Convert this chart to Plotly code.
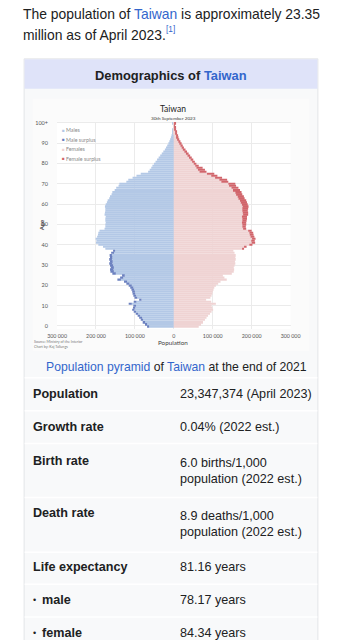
import plotly.graph_objects as go

# ---------------- data ----------------
ages = list(range(101))
# population by single year of age (thousands), read from the pyramid
males_k = [68, 74, 80, 85, 89, 93, 98, 103, 107, 105,
           104, 116, 103, 89, 101, 104, 106, 107, 109, 112,
           116, 122, 128, 145, 138, 133, 158, 163, 164, 162,
           164, 166, 164, 166, 164, 165, 161, 156, 176, 182,
           194, 200, 199, 201, 197, 195, 194, 191, 178, 176,
           176, 175, 176, 176, 175, 178, 177, 176, 176, 177,
           175, 172, 170, 166, 164, 160, 158, 152, 148, 142,
           140, 122, 117, 106, 96, 85, 66, 62, 58, 55,
           51, 47, 43, 39, 35, 31, 27, 23, 20, 17,
           14, 11.5, 9.5, 7.5, 6, 4.6, 3.5, 2.6, 1.9, 1.4, 2.4]
females_k = [64, 70, 75, 80, 84, 88, 93, 97, 101, 99,
             97, 108, 96, 83, 94, 97, 99, 100, 102, 104,
             108, 114, 120, 136, 130, 126, 149, 154, 155, 154,
             156, 158, 157, 159, 158, 159, 156, 153, 180, 187,
             202, 209, 208, 210, 207, 205, 204, 200, 186, 185,
             186, 186, 187, 188, 188, 191, 191, 190, 191, 192,
             190, 188, 186, 182, 180, 176, 174, 170, 166, 160,
             158, 140, 137, 124, 112, 104, 84, 80, 74, 64,
             58, 54, 50, 46, 42, 38, 34, 30, 26, 23,
             20, 17, 14, 12, 10, 8, 6.2, 4.8, 3.6, 2.7, 4.5]

x_tickvals = [-300000, -200000, -100000, 0, 100000, 200000, 300000]
x_ticktext = ["300 000", "200 000", "100 000", "0", "100 000", "200 000", "300 000"]
y_tickvals = [0, 10, 20, 30, 40, 50, 60, 70, 80, 90, 100]
y_ticktext = ["0", "10", "20", "30", "40", "50", "60", "70", "80", "90", "100+"]

legend_names = ["Males", "Male surplus", "Females", "Female surplus"]
colors = ["#b3c8e6", "#6b80bf", "#efd3d3", "#d1656b"]

row_labels = ["Population", "Growth rate", "Birth rate", "Death rate",
              "Life expectancy", "male", "female"]
row_values = ["23,347,374 (April 2023)", "0.04% (2022 est.)",
              "6.0 births/1,000<br>population (2022 est.)",
              "8.9 deaths/1,000<br>population (2022 est.)",
              "81.16 years", "78.17 years", "84.34 years"]

# ---------------- helpers ----------------
W, H = 342, 640
PAGE_FONT = "Liberation Sans, Arial, sans-serif"
CHART_FONT = "Lato, sans-serif"
TXT = "#202122"
LINK = "#3366cc"


def px(x):
    return x / W


def py(y):
    return 1 - y / H


males = [v * 1000 for v in males_k]
females = [v * 1000 for v in females_k]
common = [min(a, b) for a, b in zip(males, females)]
m_surplus = [max(a - b, 0) for a, b in zip(males, females)]
f_surplus = [max(b - a, 0) for a, b in zip(males, females)]

fig = go.Figure()
series = [[-c for c in common], [-s for s in m_surplus], common, f_surplus]
for name, vals, col in zip(legend_names, series, colors):
    fig.add_trace(go.Bar(y=ages, x=vals, orientation="h", name=name,
                         marker=dict(color=col, line=dict(width=0)),
                         hoverinfo="skip"))

annotations = []


def txt(x, y, text, size, color=TXT, family=PAGE_FONT, xanchor="left",
        yanchor="middle", angle=0, align="left"):
    annotations.append(dict(x=px(x), y=py(y), xref="paper", yref="paper",
                            text=text, showarrow=False, xanchor=xanchor,
                            yanchor=yanchor, textangle=angle, align=align,
                            font=dict(size=size, color=color, family=family),
                            borderpad=0, borderwidth=0))


# page text
txt(14, 12, f"The population of <span style='color:{LINK}'>Taiwan</span> is approximately 23.35", 13.9)
txt(14, 33, "million as of April 2023.", 13.9)
txt(165.5, 27.5, "[1]", 8.3, color=LINK)

# infobox header
txt(171, 74, f"<b>Demographics of <span style='color:{LINK}'>Taiwan</span></b>", 12.9,
    xanchor="center")

# chart texts
txt(173.5, 107, "Taiwan", 8.5, color="#222", family=CHART_FONT, xanchor="center")
txt(174, 116, "30th September 2023", 4.6, color="#333", family=CHART_FONT, xanchor="center")
txt(33, 224, "<b>Age</b>", 6, color="#444", family=CHART_FONT, xanchor="center", angle=-90)
txt(173, 342, "Population", 6.3, color="#444", family=CHART_FONT, xanchor="center")
txt(26, 340.5, "Source: Ministry of the Interior", 3.6, color="#777", family=CHART_FONT)
txt(26, 345.5, "Chart by: Kaj Tallungs", 3.6, color="#777", family=CHART_FONT)
for i, (name, col) in enumerate(zip(legend_names, colors)):
    yy = 128.7 + i * 9.55
    txt(55.5, yy, "■", 4.5, color=col, family=PAGE_FONT)
    txt(60, yy, name, 5.3, color="#8a8a8a", family=CHART_FONT)

# caption
txt(176.5, 366, f"<span style='color:{LINK}'>Population pyramid</span> of "
    f"<span style='color:{LINK}'>Taiwan</span> at the end of 2021", 12.2, xanchor="center")

# table rows
label_y = [393.5, 426.5, 460, 513, 567, 600, 633]
value_y = [393.5, 426.5, 470.5, 524, 567, 600, 633]
for lab, val, ly, vy in zip(row_labels, row_values, label_y, value_y):
    if lab in ("male", "female"):
        txt(24.5, ly, "•", 9, color=TXT)
        txt(33.5, ly, f"<b>{lab}</b>", 12.6)
    else:
        txt(24.3, ly, f"<b>{lab}</b>", 12.6)
    annotations.append(dict(x=px(180.5), y=py(vy), xref="paper", yref="paper",
                            text=val, showarrow=False, xanchor="left", yanchor="middle",
                            align="left", font=dict(size=12.6, color=TXT, family=PAGE_FONT),
                            borderpad=0, borderwidth=0))

shapes = [
    # infobox body
    dict(type="rect", xref="paper", yref="paper", x0=px(15), x1=px(327),
         y0=py(660), y1=py(57), fillcolor="#f8f9fa",
         line=dict(color="#e3e5e8", width=1), layer="below"),
    # header band
    dict(type="rect", xref="paper", yref="paper", x0=px(15.5), x1=px(326.5),
         y0=py(87), y1=py(57.5), fillcolor="#dfe3f9", line=dict(width=0), layer="below"),
    # chart image area
    dict(type="rect", xref="paper", yref="paper", x0=px(24), x1=px(318),
         y0=py(350), y1=py(97), fillcolor="#fbfbfb", line=dict(width=0), layer="below"),
    # plot area background
    dict(type="rect", xref="x domain", yref="y domain", x0=0, x1=1, y0=0, y1=1,
         fillcolor="#ffffff", line=dict(width=0), layer="below"),
]
for sy in [377, 410, 443, 497, 552, 584, 617]:
    shapes.append(dict(type="line", xref="paper", yref="paper", x0=px(15.5), x1=px(326.5),
                       y0=py(sy), y1=py(sy), line=dict(color="#ffffff", width=1.5),
                       layer="below"))

fig.update_layout(
    width=W, height=H, autosize=False,
    margin=dict(l=0, r=0, t=0, b=0, pad=0),
    paper_bgcolor="#ffffff", plot_bgcolor="rgba(0,0,0,0)",
    barmode="relative", bargap=0.22, showlegend=False,
    annotations=annotations, shapes=shapes,
    xaxis=dict(domain=[px(50), px(298)], range=[-300000, 300000],
               tickvals=x_tickvals, ticktext=x_ticktext,
               tickfont=dict(size=5.3, color="#555", family=CHART_FONT),
               ticks="outside", ticklen=2, tickcolor="rgba(0,0,0,0)",
               showgrid=True, gridcolor="#ebebeb", gridwidth=0.8,
               zeroline=False, showline=False, fixedrange=True),
    yaxis=dict(domain=[py(328), py(120)], range=[-1.5, 100.6],
               tickvals=y_tickvals, ticktext=y_ticktext,
               tickfont=dict(size=5.5, color="#555", family=CHART_FONT),
               ticks="outside", ticklen=7, tickcolor="rgba(0,0,0,0)",
               showgrid=True, gridcolor="#ebebeb", gridwidth=0.8,
               zeroline=False, showline=False, fixedrange=True),
)

fig.write_html("out.html", config={"displayModeBar": False})
